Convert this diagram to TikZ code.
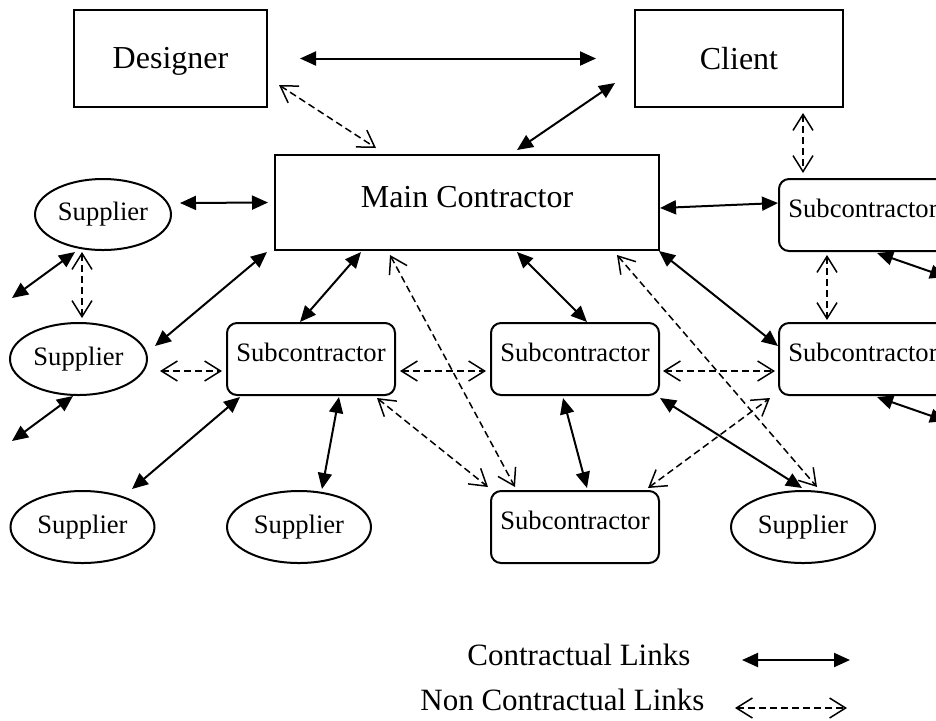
\documentclass[tikz,border=0pt]{standalone}
\usepackage{fontspec}
\setmainfont{Liberation Serif}
\usetikzlibrary{arrows.meta,shapes.geometric,positioning}

\tikzset{
  firm/.style={draw,line width=1pt,rectangle,minimum height=48.5pt,inner sep=0pt,outer sep=0pt,
    font=\fontsize{16}{19}\selectfont},
  sub/.style={draw,line width=1pt,rectangle,rounded corners=5pt,minimum width=84pt,
    minimum height=36pt,inner sep=0pt,outer sep=0pt,text height=9pt,text depth=7pt,
    font=\fontsize{13.3}{16}\selectfont},
  supplier/.style={draw,line width=1pt,ellipse,minimum width=72pt,minimum height=36pt,
    inner sep=0pt,outer sep=0pt,font=\fontsize{13.3}{16}\selectfont},
  legend/.style={inner sep=0pt,font=\fontsize{15.5}{18}\selectfont},
  con/.style={line width=1pt,{Triangle[length=8pt,width=7pt]}-{Triangle[length=8pt,width=7pt]}},
  noncon/.style={line width=0.75pt,dash pattern=on 3.5pt off 2pt,
    {Straight Barb[length=8pt,width=10pt]}-{Straight Barb[length=8pt,width=10pt]}},
}

\begin{document}
\begin{tikzpicture}[x=0.5pt,y=-0.5pt]
    \useasboundingbox (0,0) rectangle (936,720);
    \clip (0,0) rectangle (936,720);

    % parties
    \node[firm,minimum width=96.5pt,text height=11pt,text depth=1.5pt] (designer) at (170.5,58.5) {Designer};
    \node[firm,minimum width=104pt] (client) at (739,58.5) {Client};
    \node[firm,minimum width=192pt,minimum height=47.5pt,text height=11pt,text depth=6pt]
        (main) at (467,202.5) {Main Contractor};

    % subcontractors
    \node[sub] (subA) at (311,359) {Subcontractor};
    \node[sub] (subB) [right=48pt of subA] {Subcontractor};
    \node[sub] (subR2) [right=60pt of subB] {Subcontractor};
    \node[sub] (subR1) [above=36pt of subR2] {Subcontractor};
    \node[sub] (subC) [below=48pt of subB] {Subcontractor};

    % suppliers
    \node[supplier,minimum width=68pt,minimum height=35.5pt] (sup1) at (103,214.5) {Supplier};
    \node[supplier,minimum width=68.5pt] (sup2) at (78.5,359) {Supplier};
    \node[supplier] (sup3) at (82.5,527) {Supplier};
    \node[supplier] (sup4) at (299,527) {Supplier};
    \node[supplier] (sup5) at (803,527) {Supplier};

    \coordinate (outL1) at (12,298);
    \coordinate (outL2) at (12,441);
    \coordinate (outR1) at (946,277);
    \coordinate (outR2) at (946,421);

    % contractual links
    \path[con]
    ([shift={(33,0)}]designer.east) edge ([shift={(-39,0)}]client.west)
    ([shift={(50,-5)}]main.north) edge ([shift={(-20,-24)}]client.south west)
    ([shift={(9,-11.5)}]sup1.east) edge ([shift={(-7,0)}]main.west)
    ([shift={(1,5.5)}]main.east) edge ([shift={(-1,-12)}]subR1.west)
    ([shift={(-28,2)}]sup1.south) edge (outL1)
    ([shift={(-8,2)}]main.south west) edge ([shift={(8,-13)}]sup2.east)
    ([shift={(86,2)}]main.south west) edge ([shift={(-11,-1)}]subA.north)
    ([shift={(-5.5,1)}]sup2.south) edge (outL2)
    ([shift={(13,2)}]subA.south west) edge ([shift={(49.5,-2)}]sup3.north)
    ([shift={(28,2)}]subA.south) edge ([shift={(23,-2)}]sup4.north)
    ([shift={(50,2)}]main.south) edge ([shift={(12,-1)}]subB.north)
    ([shift={(0,1)}]main.south east) edge ([shift={(-1,-13)}]subR2.west)
    ([shift={(14,2)}]subR1.south) edge (outR1)
    ([shift={(14,2)}]subR2.south) edge (outR2)
    ([shift={(-12,3)}]subB.south) edge ([shift={(12,-3)}]subC.north)
    ([shift={(1,3)}]subB.south east) edge ([shift={(-1,-3)}]sup5.north);

    % non contractual links
    \path[noncon]
    ([shift={(12,-22)}]designer.south east) edge ([shift={(-91,-7)}]main.north)
    ([shift={(64,6)}]client.south) edge ([shift={(-60,-6)}]subR1.north)
    ([shift={(-21,2)}]sup1.south) edge ([shift={(3.5,-5)}]sup2.north)
    ([shift={(13,12)}]sup2.east) edge ([shift={(-5,12)}]subA.west)
    ([shift={(5,12)}]subA.east) edge ([shift={(-5,12)}]subB.west)
    ([shift={(4,12)}]subB.east) edge ([shift={(-4,12)}]subR2.west)
    ([shift={(-36,4)}]subR1.south) edge ([shift={(-36,-3)}]subR2.north)
    ([shift={(-11,-3)}]subC.north east) edge ([shift={(-9,3)}]subR2.south west)
    ([shift={(-42,5)}]main.south east) edge ([shift={(14,-4)}]sup5.north)
    ([shift={(-77,5)}]main.south) edge ([shift={(24,-4)}]subC.north west)
    ([shift={(-18,3)}]subA.south east) edge ([shift={(-3,-4)}]subC.north west);

    % legend
    \node[legend,anchor=base west] (lgcon) at (467,665) {Contractual Links};
    \node[legend,anchor=base west] (lgnon) at (420,710) {Non Contractual Links};
    \coordinate (lc1) at (742,660);
    \coordinate (lc2) at (850,660);
    \coordinate (ln1) at (735,708);
    \coordinate (ln2) at (847,708);
    \draw[con] (lc1) -- (lc2);
    \draw[noncon] (ln1) -- (ln2);
\end{tikzpicture}
\end{document}
